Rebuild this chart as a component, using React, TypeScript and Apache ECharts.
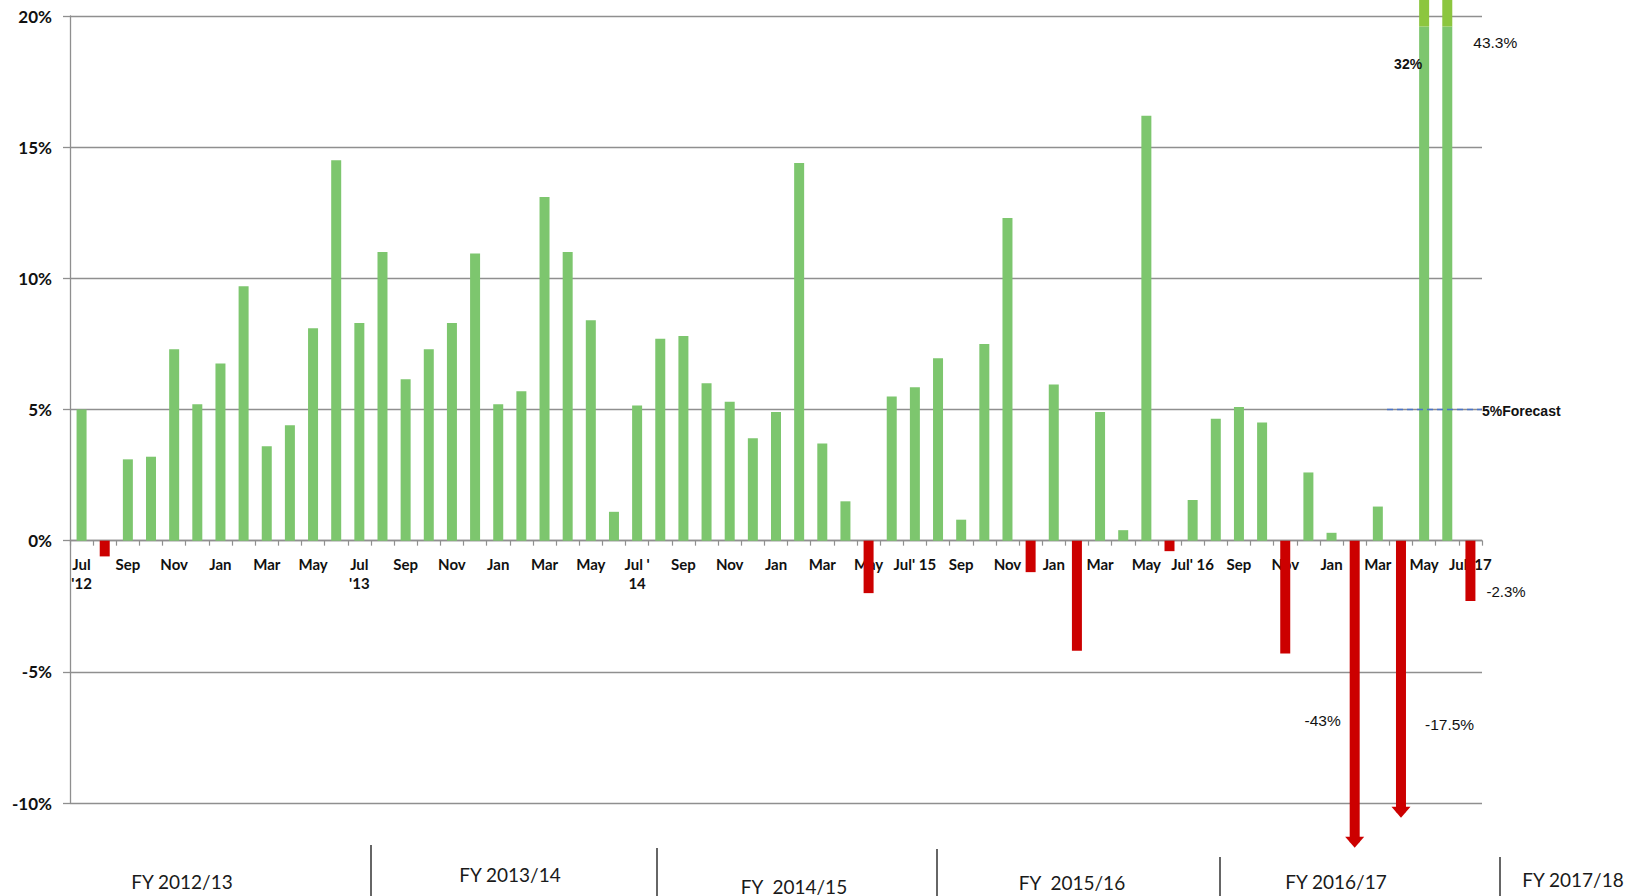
import React, { useEffect, useRef } from "react";
import * as echarts from "echarts";

// Month labels (every second one shown on the axis)
const monthLabels: string[] = [
  "Jul\n'12", "Aug", "Sep", "Oct", "Nov", "Dec", "Jan", "Feb", "Mar", "Apr", "May", "Jun",
  "Jul\n'13", "Aug", "Sep", "Oct", "Nov", "Dec", "Jan", "Feb", "Mar", "Apr", "May", "Jun",
  "Jul '\n14", "Aug", "Sep", "Oct", "Nov", "Dec", "Jan", "Feb", "Mar", "Apr", "May", "Jun",
  "Jul' 15", "Aug", "Sep", "Oct", "Nov", "Dec", "Jan", "Feb", "Mar", "Apr", "May", "Jun",
  "Jul' 16", "Aug", "Sep", "Oct", "Nov", "Dec", "Jan", "Feb", "Mar", "Apr", "May", "Jun",
  "Jul' 17",
];

// Monthly change, %
const monthlyChange: number[] = [
  5.0, -0.6, 3.1, 3.2, 7.3, 5.2, 6.75, 9.7, 3.6, 4.4, 8.1, 14.5,
  8.3, 11.0, 6.15, 7.3, 8.3, 10.95, 5.2, 5.7, 13.1, 11.0, 8.4, 1.1,
  5.15, 7.7, 7.8, 6.0, 5.3, 3.9, 4.9, 14.4, 3.7, 1.5, -2.0, 5.5,
  5.85, 6.95, 0.8, 7.5, 12.3, -1.2, 5.95, -4.2, 4.9, 0.4, 16.2, -0.4,
  1.55, 4.65, 5.1, 4.5, -4.3, 2.6, 0.3, -43, 1.3, -17.5, 32, 43.3,
  -2.3,
];

const yTicks: number[] = [-10, -5, 0, 5, 10, 15, 20];
const forecastValue = 5;
const fiscalYears: string[] = ["FY 2012/13", "FY 2013/14", "FY  2014/15", "FY  2015/16", "FY 2016/17", "FY 2017/18"];

// Off-scale values are drawn as arrows that end just below the axis
const arrowEnd: Record<number, number> = { 55: -11.5, 57: -10.35 };
const overflowFrom = 19.6;

const GREEN = "#7dc66e";
const GREEN_TOP = "#8cc63f";
const RED = "#cc0000";
const GRID = "#8f8f8f";

const GRID_TOP = 16;
const GRID_BOTTOM = 93;
const GRID_H = 896 - GRID_TOP - GRID_BOTTOM;

export default function App() {
  const ref = useRef<HTMLDivElement>(null);

  useEffect(() => {
    const chart = echarts.init(ref.current!, null, { renderer: "svg" });

    const yMin = yTicks[0];
    const yMax = yTicks[yTicks.length - 1];
    // move the category axis up onto the zero line
    const zeroOffset = -(GRID_H * (0 - yMin)) / (yMax - yMin);

    const baseData = monthlyChange.map((v, i) => {
      let shown = v;
      if (arrowEnd[i] !== undefined) shown = arrowEnd[i];
      else if (v > overflowFrom) shown = overflowFrom;
      return { value: shown, itemStyle: { color: v < 0 ? RED : GREEN } };
    });
    const overflowData = monthlyChange.map((v) => (v > overflowFrom ? v - overflowFrom : "-"));
    const arrowHeads = Object.keys(arrowEnd).map((k) => [Number(k), arrowEnd[Number(k)]]);

    chart.setOption({
      animation: false,
      grid: { left: 70, right: 149, top: GRID_TOP, bottom: GRID_BOTTOM, containLabel: false },
      xAxis: {
        type: "category",
        data: monthLabels,
        boundaryGap: true,
        offset: zeroOffset,
        axisLine: { show: true, onZero: false, lineStyle: { color: GRID, width: 1.3 } },
        axisTick: { show: true, interval: 0, length: 5, lineStyle: { color: GRID, width: 1.2 } },
        axisLabel: {
          interval: 1,
          margin: 14,
          fontFamily: "Lato",
          fontWeight: "bold",
          fontSize: 15,
          lineHeight: 19,
          color: "#111",
        },
        splitLine: { show: false },
      },
      yAxis: {
        type: "value",
        min: yMin,
        max: yMax,
        interval: 5,
        axisLine: { show: true, lineStyle: { color: GRID, width: 1.3 } },
        axisTick: { show: true, length: 7, lineStyle: { color: GRID, width: 1.3 } },
        axisLabel: {
          formatter: "{value}%",
          margin: 18,
          fontFamily: "Lato",
          fontWeight: "bold",
          fontSize: 17,
          color: "#111",
        },
        splitLine: { show: true, lineStyle: { color: GRID, width: 1.3 } },
      },
      series: [
        {
          name: "Monthly change",
          type: "bar",
          stack: "m",
          barWidth: 10,
          clip: false,
          data: baseData,
          z: 3,
        },
        {
          name: "Overflow",
          type: "bar",
          stack: "m",
          barWidth: 10,
          clip: false,
          itemStyle: { color: GREEN_TOP },
          data: overflowData,
          z: 3,
        },
        {
          name: "Arrow heads",
          type: "scatter",
          clip: false,
          symbol: "triangle",
          symbolRotate: 180,
          symbolSize: [19, 11],
          itemStyle: { color: RED, opacity: 1 },
          data: arrowHeads,
          z: 4,
        },
      ],
    });

    const px = (i: number, v: number) =>
      chart.convertToPixel({ seriesIndex: 0 }, [i, v]) as number[];

    const plotRight = 1631 - 149;
    const fy = px(0, forecastValue)[1];

    const label = (text: string, x: number, y: number, align: string, opts: any = {}) => ({
      type: "text",
      x,
      y,
      silent: true,
      z: 20,
      style: {
        text,
        fill: "#111",
        fontFamily: "Liberation Sans, Arial",
        fontSize: 15,
        align,
        textAlign: align,
        verticalAlign: "middle",
        textVerticalAlign: "middle",
        ...opts,
      },
    });

    const iMay17 = 58, iJun17 = 59, iFeb17 = 55, iApr17 = 57, iJul17 = 60;
    const p32 = px(iMay17, 18.17);
    const p43 = px(iJun17, 19.0);
    const pm43 = px(iFeb17, -6.87);
    const pm175 = px(iApr17, -7.0);
    const pm23 = px(iJul17, -1.92);

    const separators = [
      [371, 845], [657, 848], [937, 849], [1220, 857], [1500, 857],
    ];
    const fyPos = [
      [182, 881], [510, 874], [794, 886], [1072, 882], [1336, 881], [1573, 879],
    ];

    chart.setOption({
      graphic: [
        {
          type: "line",
          silent: true,
          z: 10,
          shape: { x1: 1387, y1: fy, x2: plotRight, y2: fy },
          style: { stroke: "#4a74c9", lineWidth: 1.5, lineDash: [6, 4] },
        },
        label(`${forecastValue}%Forecast`, plotRight, fy + 1, "left", { fontWeight: "bold", fontSize: 14 }),
        label(`${monthlyChange[iMay17]}%`, p32[0] - 2, p32[1], "right", { fontWeight: "bold", fontSize: 14 }),
        label(`${monthlyChange[iJun17]}%`, p43[0] + 26, p43[1], "left", { fontSize: 15.5 }),
        label(`${monthlyChange[iFeb17]}%`, pm43[0] - 14, pm43[1], "right", { fontSize: 15.5 }),
        label(`${monthlyChange[iApr17]}%`, pm175[0] + 24, pm175[1], "left", { fontSize: 15.5 }),
        label(`${monthlyChange[iJul17]}%`, pm23[0] + 16, pm23[1], "left", { fontSize: 15 }),
        ...separators.map(([x, y]) => ({
          type: "line",
          silent: true,
          shape: { x1: x, y1: y, x2: x, y2: 896 },
          style: { stroke: "#333", lineWidth: 1.5 },
        })),
        ...fiscalYears.map((t, k) =>
          label(t, fyPos[k][0], fyPos[k][1], "center", { fontFamily: "Lato", fontSize: 19, fill: "#1a1a1a" })
        ),
      ],
    });

    return () => chart.dispose();
  }, []);

  return (
    <div
      ref={ref}
      style={{ position: "fixed", left: 0, top: 0, width: 1631, height: 896, background: "#fff" }}
    />
  );
}
